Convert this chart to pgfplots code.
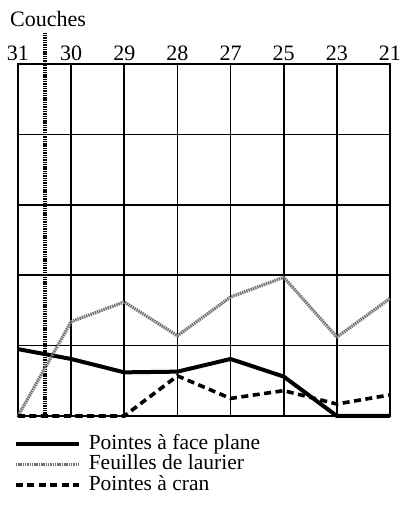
\documentclass[border=0pt]{standalone}
\usepackage{fontspec}
\setmainfont{Liberation Serif}
\usepackage{pgfplots}
\pgfplotsset{compat=1.18}

\begin{document}
\begin{tikzpicture}
\useasboundingbox (0,0) rectangle (401pt,506pt);
\node[anchor=base west, inner sep=0pt, font=\fontsize{22}{24}\selectfont] at (10pt,479pt) {Couches};
\begin{axis}[
    at={(18pt,90pt)}, anchor=south west,
    scale only axis,
    width=372pt, height=352pt,
    xmin=0, xmax=7, ymin=0, ymax=5,
    xtick={0,...,7},
    xticklabels={31,30,29,28,27,25,23,21},
    xticklabel pos=upper,
    ytick={0,...,5},
    yticklabels={},
    major tick length=0pt,
    grid=major,
    grid style={black, line width=1.6pt},
    axis line style={black, line width=1.9pt},
    tick label style={font=\fontsize{22}{24}\selectfont},
    /pgf/number format/assume math mode=true,
    clip=false,
    legend style={at={(-0.02,-0.045)}, anchor=north west, draw=none, fill=none,
        font=\fontsize{21.5}{23}\selectfont,
        nodes={inner sep=1pt, text height=14pt, text depth=4.5pt},
        cells={anchor=west},
        /tikz/every odd column/.append style={column sep=7pt}},
    legend image code/.code={\draw[#1] (0pt,0pt) -- (63pt,0pt);},
]
% separation between layers 31 and 30
\addplot[forget plot, black, line width=4.5pt, dash pattern=on 1.4pt off 0.9pt]
    coordinates {(0.51,0) (0.51,5.44)};

\addplot[black, line width=4pt, line join=round]
    coordinates {(0,0.95) (0.5,0.88) (1,0.81) (2,0.62) (3,0.63) (4,0.81) (5,0.56) (6,0) (7,0)};
\addplot[black!55, line width=3.2pt, dash pattern=on 1.5pt off 0.8pt, line join=round]
    coordinates {(0,0) (1,1.34) (2,1.62) (3,1.14) (4,1.69) (5,1.97) (6,1.12) (7,1.67)};
\addplot[black, line width=3.6pt, dash pattern=on 7pt off 4.5pt]
    coordinates {(0,0) (2,0) (3,0.57) (4,0.25) (5,0.36) (6,0.17) (7,0.30)};
\legend{Pointes à face plane, Feuilles de laurier, Pointes à cran}
\end{axis}
\end{tikzpicture}
\end{document}
